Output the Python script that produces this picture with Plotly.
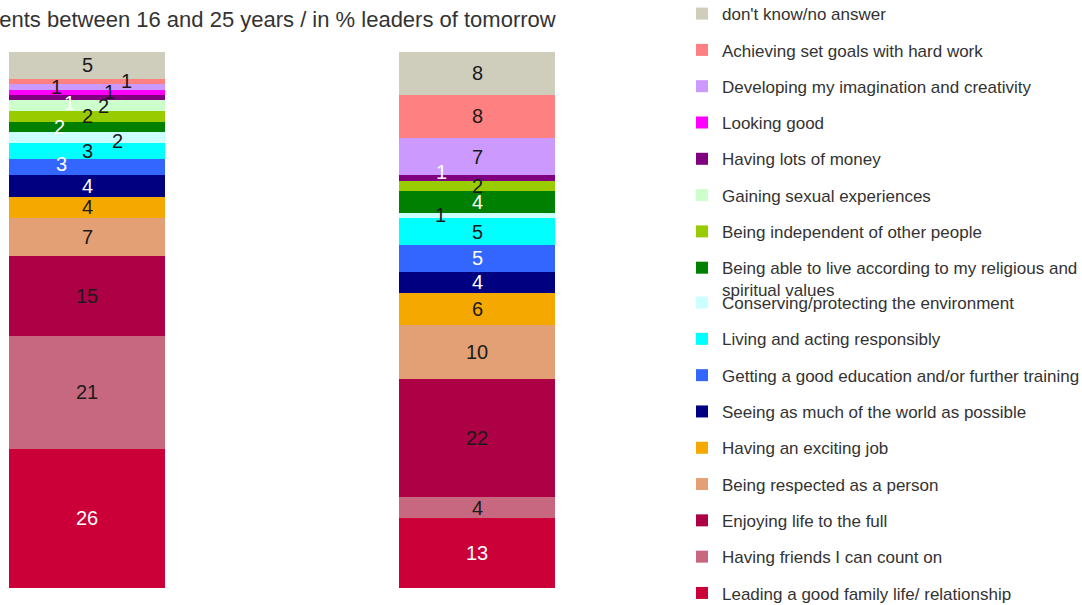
import plotly.graph_objects as go

# --------------------------------------------------
# Data (bottom of the stack first)
# --------------------------------------------------
groups = ["Adolescents between 16 and 25 years / in %", "leaders of tomorrow"]

answers = [
    "Leading a good family life/ relationship",
    "Having friends I can count on",
    "Enjoying life to the full",
    "Being respected as a person",
    "Having an exciting job",
    "Seeing as much of the world as possible",
    "Getting a good education and/or further training",
    "Living and acting responsibly",
    "Conserving/protecting the environment",
    "Being able to live according to my religious and<br>spiritual values",
    "Being independent of other people",
    "Gaining sexual experiences",
    "Having lots of money",
    "Looking good",
    "Developing my imagination and creativity",
    "Achieving set goals with hard work",
    "don't know/no answer",
]

adolescents = [26, 21, 15, 7, 4, 4, 3, 3, 2, 2, 2, 2, 1, 1, 1, 1, 5]
leaders = [13, 4, 22, 10, 6, 4, 5, 5, 1, 4, 2, 0, 1, 0, 7, 8, 8]

colors = [
    "#CC0038", "#C86880", "#AE0045", "#E3A075", "#F5A800", "#000080",
    "#3366FF", "#00FFFF", "#CCFFFF", "#008000", "#99CC00", "#CCFFCC",
    "#800080", "#FF00FF", "#CC99FF", "#FF8080", "#CFCDBB",
]

white_labels = {0, 5, 6, 9, 12}

# label nudges in pixels (x, y) so small segments do not collide
nudges = [
    {6: (-26, 3), 8: (30, -3), 9: (-28, 0), 11: (16, 0),
     12: (-18, -5), 13: (22, 0), 14: (-31, 0), 15: (39, 0)},
    {8: (-37, 0), 12: (-36, 6)},
]

fig = go.Figure()

n = len(answers)
for i, name in enumerate(answers):
    fig.add_trace(go.Bar(
        x=[0, 1],
        y=[adolescents[i], leaders[i]],
        name=name,
        legend="legend" if i >= 9 else "legend2",  # split so the two-line item can overflow
        legendgroup=str(i),
        legendrank=n - i,
        marker=dict(color=colors[i], line=dict(width=0)),
        width=0.4,
        hoverinfo="name+y",
    ))

# --------------------------------------------------
# Value labels at segment centres
# --------------------------------------------------
annotations = []
for b, series in enumerate([adolescents, leaders]):
    base = 0
    for i, v in enumerate(series):
        if v > 0:
            dx, dy = nudges[b].get(i, (0, 0))
            annotations.append(dict(
                x=b, y=base + v / 2, xref="x", yref="y",
                text=str(v), showarrow=False,
                xshift=dx, yshift=dy,
                font=dict(size=20, color="white" if i in white_labels else "#1a1a1a"),
            ))
        base += v

# title, partly cut off at the left edge as in the original
annotations.append(dict(
    x=558 / 1082, y=1.0, xref="paper", yref="paper",
    yshift=52 - 19, xanchor="right", yanchor="middle",
    text="Adolescents between 16 and 25 years / in % leaders of tomorrow",
    showarrow=False,
    font=dict(size=22, color="#333333"),
))

legend_style = dict(
    x=0.6303, xanchor="left", yanchor="top",
    traceorder="grouped",
    tracegroupgap=11.2,
    valign="top",
    maxheight=1000,
    font=dict(size=17, color="#333333"),
    bgcolor="rgba(0,0,0,0)",
)

fig.update_layout(
    width=1082,
    height=605,
    barmode="stack",
    plot_bgcolor="white",
    paper_bgcolor="white",
    font=dict(family="Liberation Sans, Arial, sans-serif", color="#333333"),
    margin=dict(l=0, r=0, t=52, b=17, autoexpand=False),
    xaxis=dict(domain=[0, 600 / 1082], range=[-0.2231, 1.3154],
               visible=False, fixedrange=True),
    yaxis=dict(range=[0, 100], visible=False, fixedrange=True),
    showlegend=True,
    legend=dict(legend_style, y=1.1044),
    legend2=dict(legend_style, y=0.5653),
    annotations=annotations,
)

fig.write_html(
    "out.html",
    config={"displayModeBar": False},
    post_script="document.body.style.margin='0';",
)
